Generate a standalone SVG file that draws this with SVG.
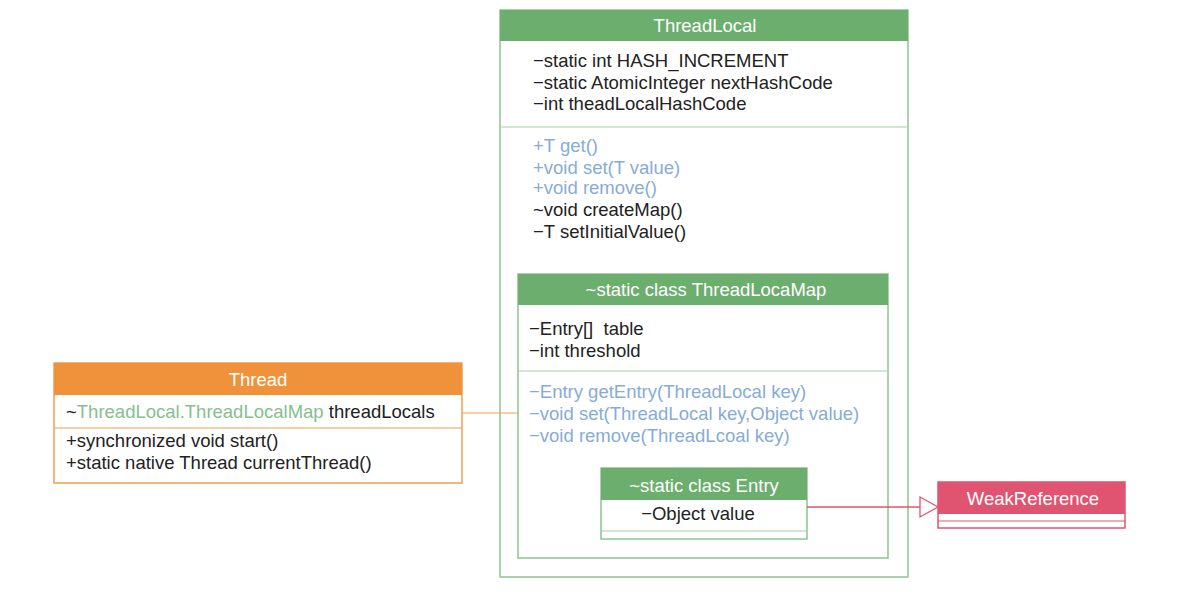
<svg xmlns="http://www.w3.org/2000/svg" width="1178" height="613" viewBox="0 0 1178 613">
<style>
text{font-family:"Liberation Sans",Arial,sans-serif;font-size:18.5px;fill:#222;white-space:pre}
.hd{fill:#fff;text-anchor:middle}
.m{fill:#86acd8}
.g{fill:#86c08f}
.gb{fill:#fff;stroke:#8cc48e;stroke-width:1.5}
.gh{fill:#6cae6e}
.dv{stroke:#a6cfa7;stroke-width:1.2}
</style>
<rect width="1178" height="613" fill="#fff"/>
<g id="threadlocal">
<rect class="gb" x="500" y="10" width="408" height="567"/>
<rect class="gh" x="500" y="10" width="408" height="31"/>
<text class="hd" x="705" y="32">ThreadLocal</text>
<line class="dv" x1="500" y1="127" x2="908" y2="127"/>
<text x="533" y="67">−static int HASH_INCREMENT</text>
<text x="533" y="89">−static AtomicInteger nextHashCode</text>
<text x="533" y="110">−int theadLocalHashCode</text>
<text class="m" x="533" y="152">+T get()</text>
<text class="m" x="533" y="174">+void set(T value)</text>
<text class="m" x="533" y="194">+void remove()</text>
<text x="533" y="216">~void createMap()</text>
<text x="533" y="238">−T setInitialValue()</text>
</g>
<g id="threadlocalmap">
<rect class="gb" x="518" y="274" width="370" height="284"/>
<rect class="gh" x="518" y="274" width="370" height="31"/>
<text class="hd" x="706" y="296">~static class ThreadLocaMap</text>
<line class="dv" x1="518" y1="371" x2="888" y2="371"/>
<text x="529" y="335">−Entry[]  table</text>
<text x="529" y="357">−int threshold</text>
<text class="m" x="529" y="398">−Entry getEntry(ThreadLocal key)</text>
<text class="m" x="529" y="420">−void set(ThreadLocal key,Object value)</text>
<text class="m" x="529" y="442">−void remove(ThreadLcoal key)</text>
</g>
<g id="entry">
<rect class="gb" x="601" y="468" width="206" height="71"/>
<rect class="gh" x="601" y="468" width="206" height="32"/>
<text class="hd" x="704" y="492">~static class Entry</text>
<line class="dv" x1="601" y1="531" x2="807" y2="531"/>
<text x="698" y="520" text-anchor="middle">−Object value</text>
</g>
<g id="weakreference">
<rect x="938" y="482" width="187" height="46" fill="#fff" stroke="#e05472" stroke-width="1.5"/>
<rect x="938" y="482" width="187" height="32" fill="#e05472"/>
<line x1="938" y1="521" x2="1125" y2="521" stroke="#e05472" stroke-width="1.2"/>
<text class="hd" x="1033" y="505">WeakReference</text>
</g>
<g id="thread">
<rect x="54" y="363" width="408" height="120" fill="#fff" stroke="#f0a050" stroke-width="1.5"/>
<rect x="54" y="363" width="408" height="32" fill="#f0923a"/>
<text class="hd" x="258" y="386">Thread</text>
<line x1="54" y1="428" x2="462" y2="428" stroke="#f0a050" stroke-width="1.2"/>
<text x="66" y="418">~<tspan class="g">ThreadLocal.ThreadLocalMap</tspan> threadLocals</text>
<text x="66" y="447">+synchronized void start()</text>
<text x="66" y="469">+static native Thread currentThread()</text>
</g>
<g id="connectors">
<line x1="462" y1="413" x2="518" y2="413" stroke="#f0a050" stroke-width="1.2"/>
<line x1="807" y1="507" x2="920" y2="507" stroke="#e05472" stroke-width="1.3"/>
<polygon points="920,497 938,507 920,517" fill="#fff" stroke="#e05472" stroke-width="1.3"/>
</g>
</svg>
